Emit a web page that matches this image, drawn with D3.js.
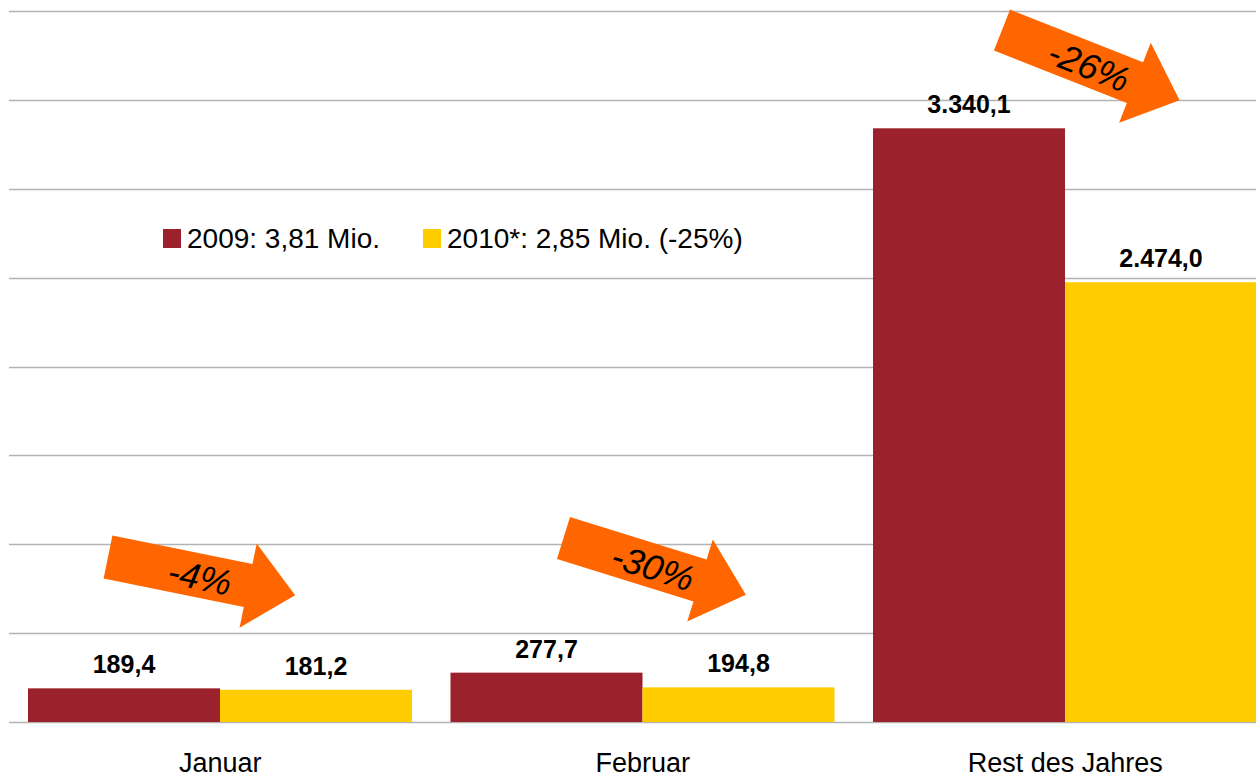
<!DOCTYPE html>
<html>
<head>
<meta charset="utf-8">
<script src="https://cdn.jsdelivr.net/npm/d3@7"></script>
<style>
  body { margin: 0; background: #fff; }
  text { font-family: "Liberation Sans", Arial, sans-serif; }
</style>
</head>
<body>
<svg id="chart" width="1256" height="778"></svg>
<script>
var svg = d3.select("#chart");

// data
var categories = ["Januar", "Februar", "Rest des Jahres"];
var seriesNames = ["2009: 3,81 Mio.", "2010*: 2,85 Mio. (-25%)"];
var values2009 = [189.4, 277.7, 3340.1];
var values2010 = [181.2, 194.8, 2474.0];
var changeLabels = ["-4%", "-30%", "-26%"];
var yTicks = [0, 500, 1000, 1500, 2000, 2500, 3000, 3500, 4000];

var colors = ["#9b222d", "#ffcc00"];
var arrowColor = "#ff6600";

// where each arrow's tail sits (offset into band, value on y) and its tilt
var arrowLayout = [
  { dx: 99, yVal: 928, angle: 11.5 },
  { dx: 132, yVal: 1035, angle: 17.3 },
  { dx: 148, yVal: 3893, angle: 21.6 }
];

var x = d3.scaleBand()
  .domain(categories)
  .range([9, 9 + 3 * 422.5]);

var xInner = d3.scaleBand()
  .domain([0, 1])
  .range([19, 403]);

var y = d3.scaleLinear()
  .domain([0, 4000])
  .range([722, 11]);

var fmt = function (v) {
  // german number format: 3.340,1
  var s = v.toFixed(1).split(".");
  var intPart = s[0].replace(/\B(?=(\d{3})+(?!\d))/g, ".");
  return intPart + "," + s[1];
};

//gridlines
svg.append("g")
  .selectAll("line")
  .data(yTicks)
  .enter()
  .append("line")
  .attr("x1", 9)
  .attr("x2", 1256)
  .attr("y1", function (d) { return Math.round(y(d)) + 0.5; })
  .attr("y2", function (d) { return Math.round(y(d)) + 0.5; })
  .attr("stroke", "#b3b3b3")
  .attr("stroke-width", 1.5);

var rows = categories.map(function (c, i) {
  return { cat: c, vals: [values2009[i], values2010[i]] };
});

var groups = svg.append("g")
  .selectAll("g")
  .data(rows)
  .enter()
  .append("g")
  .attr("transform", function (d) { return "translate(" + x(d.cat) + ",0)"; });

groups.selectAll("rect")
  .data(function (d) { return d.vals; })
  .enter()
  .append("rect")
  .attr("x", function (d, i) { return xInner(i); })
  .attr("width", xInner.bandwidth())
  .attr("y", function (d) { return y(d); })
  .attr("height", function (d) { return y(0) - y(d); })
  .attr("fill", function (d, i) { return colors[i]; });

//value labels
groups.selectAll("text.val")
  .data(function (d) { return d.vals; })
  .enter()
  .append("text")
  .attr("class", "val")
  .attr("x", function (d, i) { return xInner(i) + xInner.bandwidth() / 2; })
  .attr("y", function (d) { return y(d) - 15; })
  .attr("text-anchor", "middle")
  .attr("font-size", 25)
  .attr("font-weight", "bold")
  .text(function (d) { return fmt(d); });

//category labels
svg.append("g")
  .selectAll("text")
  .data(categories)
  .enter()
  .append("text")
  .attr("x", function (d) { return x(d) + x.bandwidth() / 2; })
  .attr("y", 772)
  .attr("text-anchor", "middle")
  .attr("font-size", 27)
  .text(function (d) { return d; });

//legend
var legendX = [163, 423];
var legend = svg.append("g")
  .selectAll("g")
  .data(seriesNames)
  .enter()
  .append("g")
  .attr("transform", function (d, i) { return "translate(" + legendX[i] + ",229)"; });

legend.append("rect")
  .attr("width", 18)
  .attr("height", 19)
  .attr("fill", function (d, i) { return colors[i]; });

legend.append("text")
  .attr("x", 24)
  .attr("y", 19)
  .attr("font-size", 28)
  .text(function (d) { return d; });

//change arrows
var L = 191, headBase = 143, shaftHalf = 22, headHalf = 43;
var arrowPath = "M0," + (-shaftHalf) + "L" + headBase + "," + (-shaftHalf) +
  "L" + headBase + "," + (-headHalf) + "L" + L + ",0" +
  "L" + headBase + "," + headHalf + "L" + headBase + "," + shaftHalf +
  "L0," + shaftHalf + "Z";

var arrows = svg.append("g")
  .selectAll("g")
  .data(changeLabels)
  .enter()
  .append("g")
  .attr("transform", function (d, i) {
    var a = arrowLayout[i];
    return "translate(" + (x(categories[i]) + a.dx) + "," + y(a.yVal) + ")rotate(" + a.angle + ")";
  });

arrows.append("path")
  .attr("d", arrowPath)
  .attr("fill", arrowColor);

arrows.append("text")
  .attr("x", 94)
  .attr("y", 14)
  .attr("text-anchor", "middle")
  .attr("font-size", 36)
  .attr("font-style", "italic")
  .text(function (d) { return d; });
</script>
</body>
</html>
